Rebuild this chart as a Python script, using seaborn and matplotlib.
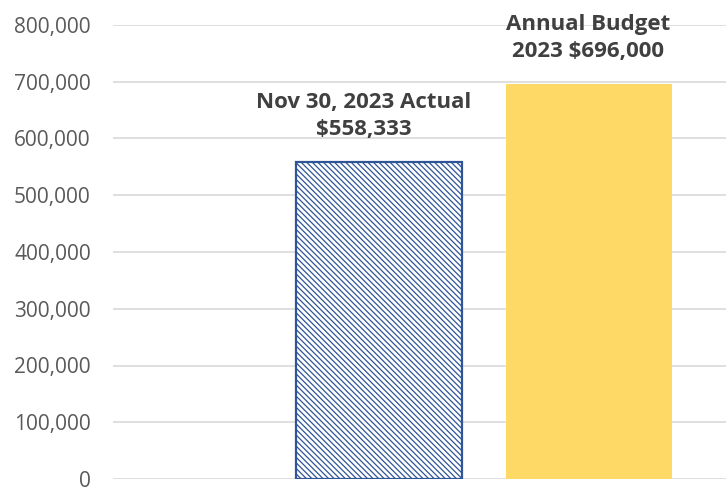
import pandas as pd
import numpy as np
import matplotlib
matplotlib.use('Agg')
import matplotlib.pyplot as plt
import seaborn as sns
from matplotlib.ticker import FuncFormatter

# chart data
categories = ['Nov 30, 2023 Actual', 'Annual Budget 2023']
values = [558333, 696000]
labels = ['Nov 30, 2023 Actual\n\\$558,333', 'Annual Budget\n2023 \\$696,000']
yticks = [0, 100000, 200000, 300000, 400000, 500000, 600000, 700000, 800000]

sns.set_style('white')
plt.rcParams['font.family'] = ['Open Sans', 'DejaVu Sans']
plt.rcParams['hatch.linewidth'] = 0.9

df = pd.DataFrame({'category': categories, 'value': values})

fig = plt.figure(figsize=(7.26, 4.87), dpi=100)
ax = fig.add_axes([113 / 726, 1 - 479 / 487, 1 - 113 / 726, (479 - 25) / 487])

sns.barplot(data=df, x='category', y='value', hue='category',
            palette=['white', '#FFD966'], saturation=1, width=0.79,
            legend=False, ax=ax)

# hatched outline bar for the actual
actual = ax.patches[0]
actual.set_hatch('\\\\\\\\\\\\')
actual.set_edgecolor('#2F5597')
actual.set_linewidth(1.6)
ax.patches[1].set_edgecolor('none')

# the actual's label sits a little left of its bar
offsets = [(-11, 16), (-1, 16)]
for p, txt, off in zip(ax.patches, labels, offsets):
    ax.annotate(txt, (p.get_x() + p.get_width() / 2, p.get_height()),
                xytext=off, textcoords='offset points',
                ha='center', va='bottom', fontsize=16, fontweight='bold',
                color='#404040', linespacing=1.35)

ax.set_ylim(0, 800000)
ax.set_xlim(-1.267, 1.652)
ax.set_yticks(yticks)
ax.yaxis.set_major_formatter(FuncFormatter(lambda v, _: f'{int(v):,}'))
ax.tick_params(axis='y', labelsize=15, labelcolor='#595959', length=0, pad=16)
ax.set_xticks([])
ax.set_xlabel('')
ax.set_ylabel('')
ax.grid(axis='y', color='#D9D9D9', linewidth=1.2)
ax.set_axisbelow(True)
for s in ['top', 'right', 'left', 'bottom']:
    ax.spines[s].set_visible(False)

fig.savefig('out.png', dpi=100)
